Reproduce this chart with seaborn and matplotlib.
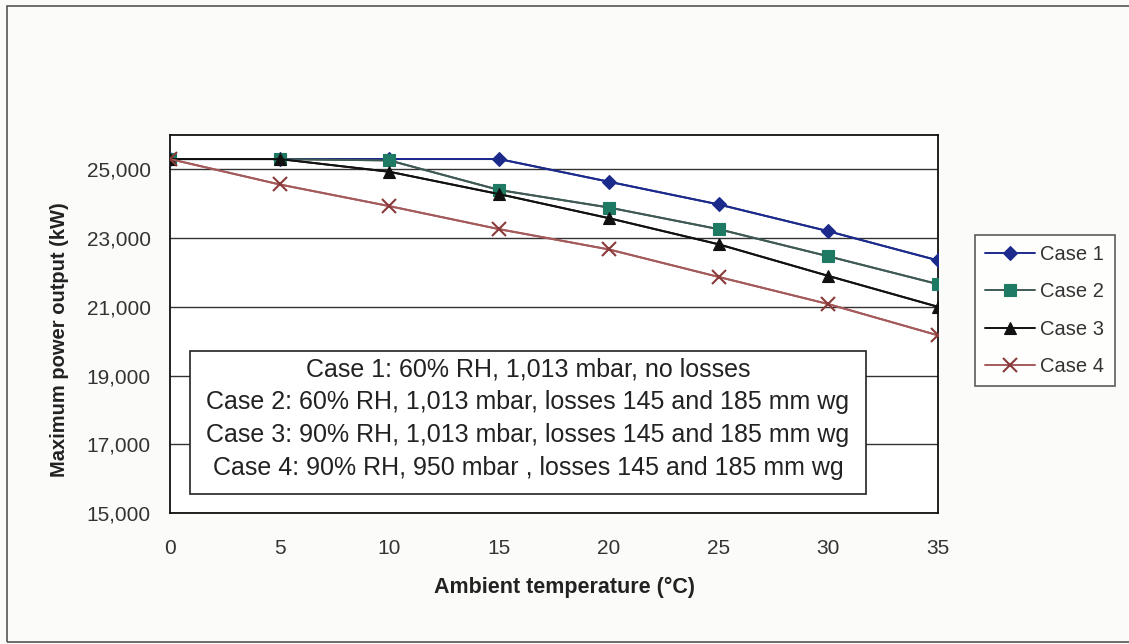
import matplotlib
matplotlib.use("Agg")
import matplotlib.pyplot as plt
import seaborn as sns
import pandas as pd
from matplotlib.patches import Rectangle

# Ambient temperature (°C) and maximum power output (kW) per case
temperature = [0, 5, 10, 15, 20, 25, 30, 35]
case1 = [25300, 25300, 25300, 25300, 24640, 23980, 23200, 22350]
case2 = [25300, 25300, 25260, 24400, 23890, 23260, 22470, 21660]
case3 = [25300, 25300, 24930, 24280, 23580, 22820, 21900, 21000]
case4 = [25300, 24560, 23930, 23260, 22670, 21870, 21080, 20170]
case_names = ["Case 1", "Case 2", "Case 3", "Case 4"]
y_ticks = [15000, 17000, 19000, 21000, 23000, 25000]
x_ticks = [0, 5, 10, 15, 20, 25, 30, 35]
notes = [
    "Case 1: 60% RH, 1,013 mbar, no losses",
    "Case 2: 60% RH, 1,013 mbar, losses 145 and 185 mm wg",
    "Case 3: 90% RH, 1,013 mbar, losses 145 and 185 mm wg",
    "Case 4: 90% RH, 950 mbar , losses 145 and 185 mm wg",
]

frames = []
for name, values in zip(case_names, [case1, case2, case3, case4]):
    frames.append(pd.DataFrame({"temp": temperature, "power": values, "case": name}))
df = pd.concat(frames, ignore_index=True)

sns.set_style("white")
plt.rcParams["font.family"] = ["Liberation Sans", "DejaVu Sans"]

W, H = 1129, 644
palette = {"Case 1": "#1c2a8c", "Case 2": "#3f5a55", "Case 3": "#111111", "Case 4": "#a45a5a"}
marker_colors = {"Case 1": "#1c2a8c", "Case 2": "#1f7a63", "Case 3": "#111111", "Case 4": "#8a3a3a"}
markers = {"Case 1": "D", "Case 2": "s", "Case 3": "^", "Case 4": "x"}
sizes = {"Case 1": 7, "Case 2": 9, "Case 3": 9, "Case 4": 10}

fig = plt.figure(figsize=(W / 100, H / 100), dpi=100, facecolor="#fbfbfa")
ax = fig.add_axes([170 / W, (H - 513) / H, (938 - 170) / W, (513 - 135) / H])
ax.set_facecolor("white")

# outer chart frame
fig.patches.append(Rectangle((7 / W, 2 / H), 1.2, 636 / H, transform=fig.transFigure,
                             fill=False, edgecolor="#555555", linewidth=1.2, zorder=0))

sns.lineplot(data=df, x="temp", y="power", hue="case", palette=palette, ax=ax,
             linewidth=1.4, legend=False, zorder=3)

handles = []
for name in case_names:
    sub = df[df["case"] == name]
    h, = ax.plot(sub["temp"], sub["power"], color=palette[name], linewidth=1.4,
                 marker=markers[name], markersize=sizes[name],
                 markerfacecolor=marker_colors[name], markeredgecolor=marker_colors[name],
                 markeredgewidth=1.5 if name == "Case 4" else 0.8, zorder=4, label=name)
    handles.append(h)

ax.set_xlim(0, 35)
ax.set_ylim(15000, 26000)
ax.set_xticks(x_ticks)
ax.set_yticks(y_ticks)
ax.set_yticklabels([f"{v:,}" for v in y_ticks])
ax.grid(axis="y", color="#333333", linewidth=1.0)
ax.grid(axis="x", visible=False)
ax.set_axisbelow(True)
for side in ["top", "right", "left", "bottom"]:
    ax.spines[side].set_visible(True)
    ax.spines[side].set_color("#111111")
    ax.spines[side].set_linewidth(1.3)
ax.tick_params(axis="both", direction="inout", length=8, width=1.0, colors="#111111",
               labelsize=15, labelcolor="#333333")
ax.tick_params(axis="y", pad=10)
ax.tick_params(axis="x", pad=15)

ax.set_xlabel("Ambient temperature (°C)", fontsize=15.5, fontweight="bold", color="#222222")
ax.set_ylabel("Maximum power output (kW)", fontsize=14.5, fontweight="bold", color="#222222")
ax.xaxis.set_label_coords(0.5, (H - 587) / H, transform=fig.transFigure)
ax.yaxis.set_label_coords(60 / W, (H - 340) / H, transform=fig.transFigure)
ax.xaxis.label.set_va("center")
ax.yaxis.label.set_va("center")

# case description box
box = Rectangle((190 / W, (H - 494) / H), (866 - 190) / W, (494 - 351) / H,
                transform=fig.transFigure, facecolor="white", edgecolor="#222222",
                linewidth=1.2, zorder=5)
fig.patches.append(box)
for i, line in enumerate(notes):
    fig.text(528 / W, (H - (369 + 33 * i)) / H, line, ha="center", va="center",
             fontsize=18, color="#222222", zorder=6)

leg = fig.legend(handles=handles, labels=case_names, loc="upper left",
                 bbox_to_anchor=(975 / W, (H - 235) / H), frameon=True,
                 fontsize=14.5, handlelength=2.5, labelspacing=0.91, borderpad=0.5,
                 handletextpad=0.25, borderaxespad=0, fancybox=False)
leg.get_frame().set_edgecolor("#333333")
leg.get_frame().set_linewidth(1.2)
for t in leg.get_texts():
    t.set_color("#333333")

fig.savefig("out.png", dpi=100, facecolor=fig.get_facecolor())
